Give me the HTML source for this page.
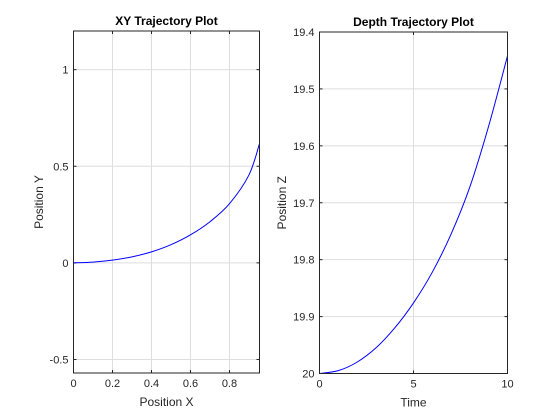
<!DOCTYPE html>
<html><head><meta charset="utf-8"><style>
body{margin:0;background:#fff;}
svg{display:block;font-family:"Liberation Sans",Arial,sans-serif;}
</style></head><body>
<svg id="chart" width="560" height="420" viewBox="0 0 560 420"></svg>
<script>
const xyX=[0,0.1,0.2,0.3,0.4,0.5,0.6,0.7,0.8,0.9,0.954];
const xyY=[0,0.004,0.014,0.031,0.057,0.094,0.145,0.213,0.306,0.455,0.617];
const xyXTicks=[0,0.2,0.4,0.6,0.8];
const xyXTickLabels=["0","0.2","0.4","0.6","0.8"];
const xyYTicks=[-0.5,0,0.5,1];
const xyYTickLabels=["-0.5","0","0.5","1"];
const tTime=[0,1,2,3,4,5,6,7,8,9,10];
const zDepth=[20,19.995,19.98,19.955,19.92,19.876,19.822,19.755,19.672,19.565,19.442];
const zXTicks=[0,5,10];
const zXTickLabels=["0","5","10"];
const zYTicks=[19.4,19.5,19.6,19.7,19.8,19.9,20];
const zYTickLabels=["19.4","19.5","19.6","19.7","19.8","19.9","20"];

const NS="http://www.w3.org/2000/svg";
const svg=document.getElementById('chart');
function mk(tag,attrs,parent,text){const e=document.createElementNS(NS,tag);for(const k in attrs)e.setAttribute(k,attrs[k]);if(text!==undefined)e.textContent=text;(parent||svg).appendChild(e);return e;}

function smoothPath(pts){
  let d='M'+pts[0][0].toFixed(2)+','+pts[0][1].toFixed(2);
  for(let i=0;i<pts.length-1;i++){
    const p0=pts[Math.max(i-1,0)],p1=pts[i],p2=pts[i+1],p3=pts[Math.min(i+2,pts.length-1)];
    const c1x=p1[0]+(p2[0]-p0[0])/6,c1y=p1[1]+(p2[1]-p0[1])/6;
    const c2x=p2[0]-(p3[0]-p1[0])/6,c2y=p2[1]-(p3[1]-p1[1])/6;
    d+=' C'+c1x.toFixed(2)+','+c1y.toFixed(2)+' '+c2x.toFixed(2)+','+c2y.toFixed(2)+' '+p2[0].toFixed(2)+','+p2[1].toFixed(2);
  }
  return d;
}

function drawPanel(p){
  const g=mk('g',{});
  
  
  const {x0,x1,y0,y1,xmin,xmax,ymin,ymax,rev}=p;
  const sx=v=>x0+(v-xmin)/(xmax-xmin)*(x1-x0);
  const sy=v=>rev? y0+(v-ymin)/(ymax-ymin)*(y1-y0) : y1-(v-ymin)/(ymax-ymin)*(y1-y0);
  mk('rect',{x:x0,y:y0,width:x1-x0,height:y1-y0,fill:'#fff'},g);
  p.xt.forEach((v,i)=>{const x=sx(v);
    const l=mk('line',{x1:x,x2:x,y1:y0,y2:y1,stroke:'#dedede','stroke-width':1},g);
    
    
    mk('line',{x1:x,x2:x,y1:y1,y2:y1-3,stroke:'#262626'},g);
    mk('line',{x1:x,x2:x,y1:y0,y2:y0+3,stroke:'#262626'},g);
    const t=mk('text',{x:x,y:y1+14,'font-size':11,'text-anchor':'middle',fill:'#262626'},g,p.xl[i]);
    
    
  });
  p.yt.forEach((v,i)=>{const y=sy(v);
    const l=mk('line',{x1:x0,x2:x1,y1:y,y2:y,stroke:'#dedede','stroke-width':1},g);
    
    
    mk('line',{x1:x0,x2:x0+3,y1:y,y2:y,stroke:'#262626'},g);
    mk('line',{x1:x1,x2:x1-3,y1:y,y2:y,stroke:'#262626'},g);
    const t=mk('text',{x:x0-5,y:y+4,'font-size':11,'text-anchor':'end',fill:'#262626'},g,p.yl[i]);
    
    
  });
  const pts=p.xs.map((v,i)=>[sx(v),sy(p.ys[i])]);
  const path=mk('path',{d:smoothPath(pts),fill:'none',stroke:'#0000ff','stroke-width':1,'clip-path':'url(#'+p.name+'-clip)'},g);
  
  
  const cp=mk('clipPath',{id:p.name+'-clip'},g);mk('rect',{x:x0,y:y0,width:x1-x0,height:y1-y0},cp);
  mk('rect',{x:x0,y:y0,width:x1-x0,height:y1-y0,fill:'none',stroke:'#262626','stroke-width':1},g);
  const ti=mk('text',{x:(x0+x1)/2,y:y0-6,'font-size':12,'font-weight':'bold','text-anchor':'middle',fill:'#000'},g,p.title);
  
  
  const xl=mk('text',{x:(x0+x1)/2,y:y1+33,'font-size':12,'text-anchor':'middle',fill:'#262626'},g,p.xlabel);
  
  
  const yx=p.ylx, yy=(y0+y1)/2;
  const yl=mk('text',{x:yx,y:yy,'font-size':12,'text-anchor':'middle',fill:'#262626',transform:'rotate(-90 '+yx+' '+yy+')'},g,p.ylabel);
  
  
}
drawPanel({name:'xy-plot',x0:73.5,x1:259.5,y0:31,y1:373,xmin:0,xmax:0.954,ymin:-0.57,ymax:1.2,rev:false,
  xt:xyXTicks,xl:xyXTickLabels,yt:xyYTicks,yl:xyYTickLabels,xs:xyX,ys:xyY,
  title:'XY Trajectory Plot',xlabel:'Position X',ylabel:'Position Y',ylx:43});
drawPanel({name:'depth-plot',x0:319.5,x1:507.5,y0:32,y1:373.5,xmin:0,xmax:10,ymin:19.4,ymax:20,rev:true,
  xt:zXTicks,xl:zXTickLabels,yt:zYTicks,yl:zYTickLabels,xs:tTime,ys:zDepth,
  title:'Depth Trajectory Plot',xlabel:'Time',ylabel:'Position Z',ylx:286});
</script>
</body></html>
